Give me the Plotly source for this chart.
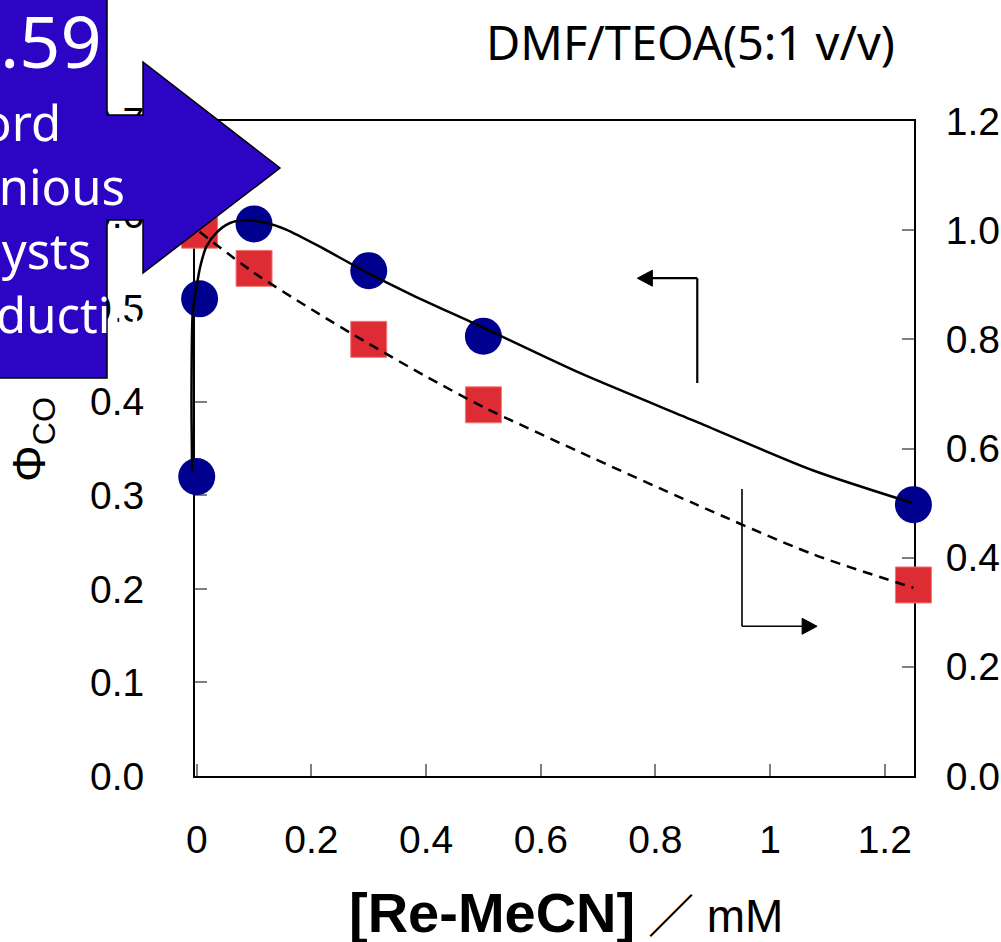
import plotly.graph_objects as go

# ---------------- data ----------------
conc_phi = [0.0, 0.005, 0.1, 0.3, 0.5, 1.25]
phi_co = [0.32, 0.51, 0.59, 0.54, 0.47, 0.29]

conc_right = [0.005, 0.1, 0.3, 0.5, 1.25]
right_vals = [1.00, 0.93, 0.80, 0.68, 0.35]

fit_phi_x = [-0.008, -0.009, -0.009, -0.007, -0.001, 0.006, 0.017, 0.035, 0.058, 0.084,
             0.122, 0.156, 0.214, 0.294, 0.376, 0.493, 0.667, 0.870, 1.073, 1.247]
fit_phi_y = [0.325, 0.381, 0.424, 0.495, 0.520, 0.544, 0.566, 0.581, 0.591, 0.594,
             0.591, 0.584, 0.566, 0.539, 0.514, 0.481, 0.431, 0.379, 0.327, 0.292]

fit_right_x = [0.005, 0.1, 0.2, 0.3, 0.4, 0.5, 0.667, 0.87, 1.073, 1.25]
fit_right_y = [0.997, 0.922, 0.855, 0.792, 0.732, 0.676, 0.594, 0.498, 0.407, 0.345]

x_tickvals = [0, 0.2, 0.4, 0.6, 0.8, 1.0, 1.2]
x_ticktext = ["0", "0.2", "0.4", "0.6", "0.8", "1", "1.2"]
yl_tickvals = [0.0, 0.1, 0.2, 0.3, 0.4, 0.5, 0.6, 0.7]
yl_ticktext = ["0.0", "0.1", "0.2", "0.3", "0.4", "0.5", "0.6", "0.7"]
yr_tickvals = [0.0, 0.2, 0.4, 0.6, 0.8, 1.0, 1.2]
yr_ticktext = ["0.0", "0.2", "0.4", "0.6", "0.8", "1.0", "1.2"]

title_text = "DMF/TEOA(5:1 v/v)"
overlay_lines = [".59", "ord", "enious", "lysts", "ductio"]

# ---------------- layout geometry (page pixels) ----------------
W, H = 1001, 942
AX_LEFT, AX_RIGHT, AX_TOP, AX_BOTTOM = 195, 914, 121, 776   # frame in pixels
EXT = 10  # extra room on the left for the fitted curve
ML = AX_LEFT - EXT
MR = W - AX_RIGHT
MT = AX_TOP
MB = H - AX_BOTTOM
x_range = [-0.003, 1.251]
y_range = [0, 0.7]
y2_range = [0, 1.2]
plot_w = W - ML - MR
plot_h = H - MT - MB
ppu = (AX_RIGHT - AX_LEFT) / (x_range[1] - x_range[0])
x3_range = [x_range[0] - EXT / ppu, x_range[1]]
ypu = (AX_BOTTOM - AX_TOP) / (y_range[1] - y_range[0])


def px(xp):
    return (xp - ML) / plot_w


def py(yp):
    return (H - MB - yp) / plot_h


TICK_FONT = dict(family="Liberation Sans, Arial, sans-serif", size=39, color="black")
UI_FONT = "Noto Sans, Open Sans, sans-serif"

fig = go.Figure()

fig.add_trace(go.Scatter(
    x=conc_phi, y=phi_co, mode="markers", xaxis="x", yaxis="y",
    marker=dict(symbol="circle", size=37, color="#00008F", line=dict(width=0)),
    cliponaxis=False, showlegend=False, hoverinfo="skip"))

fig.add_trace(go.Scatter(
    x=conc_right, y=right_vals, mode="markers", xaxis="x", yaxis="y2",
    marker=dict(symbol="square", size=36, color="#DD2C33", line=dict(width=1, color="#F07A7A")),
    cliponaxis=False, showlegend=False, hoverinfo="skip"))

fig.add_trace(go.Scatter(
    x=fit_right_x, y=fit_right_y, mode="lines", xaxis="x", yaxis="y2",
    line=dict(color="black", width=2.5, dash="10px,7px", shape="spline", smoothing=0.8),
    showlegend=False, hoverinfo="skip"))

fig.add_trace(go.Scatter(
    x=fit_phi_x, y=fit_phi_y, mode="lines", xaxis="x3", yaxis="y3",
    line=dict(color="black", width=2.5, shape="spline", smoothing=0.7),
    showlegend=False, hoverinfo="skip"))

axis_common = dict(showgrid=False, zeroline=False, showline=True, linecolor="black",
                   linewidth=2, ticks="inside", ticklen=12, tickwidth=1.5,
                   tickcolor="#7f7f7f", tickfont=TICK_FONT, layer="below traces",
                   automargin=False)

fig.update_layout(
    width=W, height=H, autosize=False,
    margin=dict(l=ML, r=MR, t=MT, b=MB, pad=0, autoexpand=False),
    paper_bgcolor="white", plot_bgcolor="rgba(0,0,0,0)",
    showlegend=False,
    xaxis=dict(domain=[EXT / plot_w, 1], range=x_range, anchor="y",
               tickvals=x_tickvals, ticktext=x_ticktext, mirror=True,
               ticklabelstandoff=28, **axis_common),
    yaxis=dict(domain=[0, 1], range=y_range, anchor="x",
               tickvals=yl_tickvals, ticktext=yl_ticktext,
               ticklabelstandoff=41, **axis_common),
    yaxis2=dict(overlaying="y", side="right", range=y2_range, anchor="x",
                tickvals=yr_tickvals, ticktext=yr_ticktext,
                ticklabelstandoff=22, **axis_common),
    xaxis3=dict(domain=[0, 1], range=x3_range, anchor="y3", visible=False, automargin=False),
    yaxis3=dict(domain=[0, 1], range=y_range, anchor="x3", visible=False, automargin=False),
)


# L-shaped legend arrows (data coordinates of the left / bottom axes)
def add_arrow(xv, y_top, y_bot, x_tip, y_h, width):
    head_len = 15 / ppu
    head_half = 8 / ypu
    fig.add_shape(type="line", xref="x", yref="y", x0=xv, y0=y_top, x1=xv, y1=y_bot,
                  line=dict(color="black", width=width), layer="above")
    direction = 1 if x_tip > xv else -1
    base = x_tip - direction * head_len
    fig.add_shape(type="line", xref="x", yref="y", x0=xv, y0=y_h, x1=base, y1=y_h,
                  line=dict(color="black", width=width), layer="above")
    fig.add_shape(type="path", xref="x", yref="y",
                  path=f"M {base},{y_h - head_half} L {x_tip},{y_h} L {base},{y_h + head_half} Z",
                  fillcolor="black", line=dict(color="black", width=1), layer="above")


add_arrow(0.873, 0.532, 0.420, 0.7685, 0.532, 2.2)
add_arrow(0.951, 0.3066, 0.160, 1.082, 0.160, 1.6)

# title
fig.add_annotation(text=title_text, xref="paper", yref="paper", x=px(690), y=py(42),
                   showarrow=False, xanchor="center", yanchor="middle",
                   font=dict(family=UI_FONT, size=47, color="black"))

# x axis title
xtitle = ("<span style='font-size:56px'><b>[Re-MeCN]</b></span>\u00a0"
          "<span style='font-family:Noto Sans CJK JP'>／</span>\u00a0mM")
fig.add_annotation(text=xtitle, xref="paper", yref="paper",
                   x=px(566), y=py(912), showarrow=False, xanchor="center", yanchor="middle",
                   font=dict(family="Liberation Sans, Arial, sans-serif", size=46, color="black"))

# y axis title
fig.add_annotation(text="Φ<sub>CO</sub>", xref="paper", yref="paper",
                   x=px(32), y=py(440), showarrow=False, textangle=-90,
                   xanchor="center", yanchor="middle",
                   font=dict(family="Liberation Sans, Arial, sans-serif", size=46, color="black"))

# blue overlay banner (arrow shape) partially covering the chart
pts = [(-3, -3), (107, -3), (107, 115), (143, 115), (143, 62), (280, 168), (143, 273),
       (143, 220), (107, 220), (107, 378), (-3, 378)]
path = "M " + " L ".join(f"{px(a):.5f},{py(b):.5f}" for a, b in pts) + " Z"
fig.add_shape(type="path", xref="paper", yref="paper", path=path,
              fillcolor="#2B05C3", line=dict(color="black", width=1.5), layer="above")

fig.add_annotation(text=overlay_lines[0], xref="paper", yref="paper", x=px(104), y=py(40),
                   showarrow=False, xanchor="right", yanchor="middle",
                   font=dict(family=UI_FONT, size=72, color="white"))
line_y = [122, 186, 250, 314]
right_edges = [63, 127, 93, 142]
for txt, yy, rr in zip(overlay_lines[1:], line_y, right_edges):
    fig.add_annotation(text=txt, xref="paper", yref="paper", x=px(rr), y=py(yy),
                       showarrow=False, xanchor="right", yanchor="middle",
                       font=dict(family=UI_FONT, size=49, color="white"))

fig.write_html("out.html",
               config={"displayModeBar": False, "responsive": False},
               post_script="document.body.style.margin='0px';"
                           "document.body.style.overflow='hidden';")
